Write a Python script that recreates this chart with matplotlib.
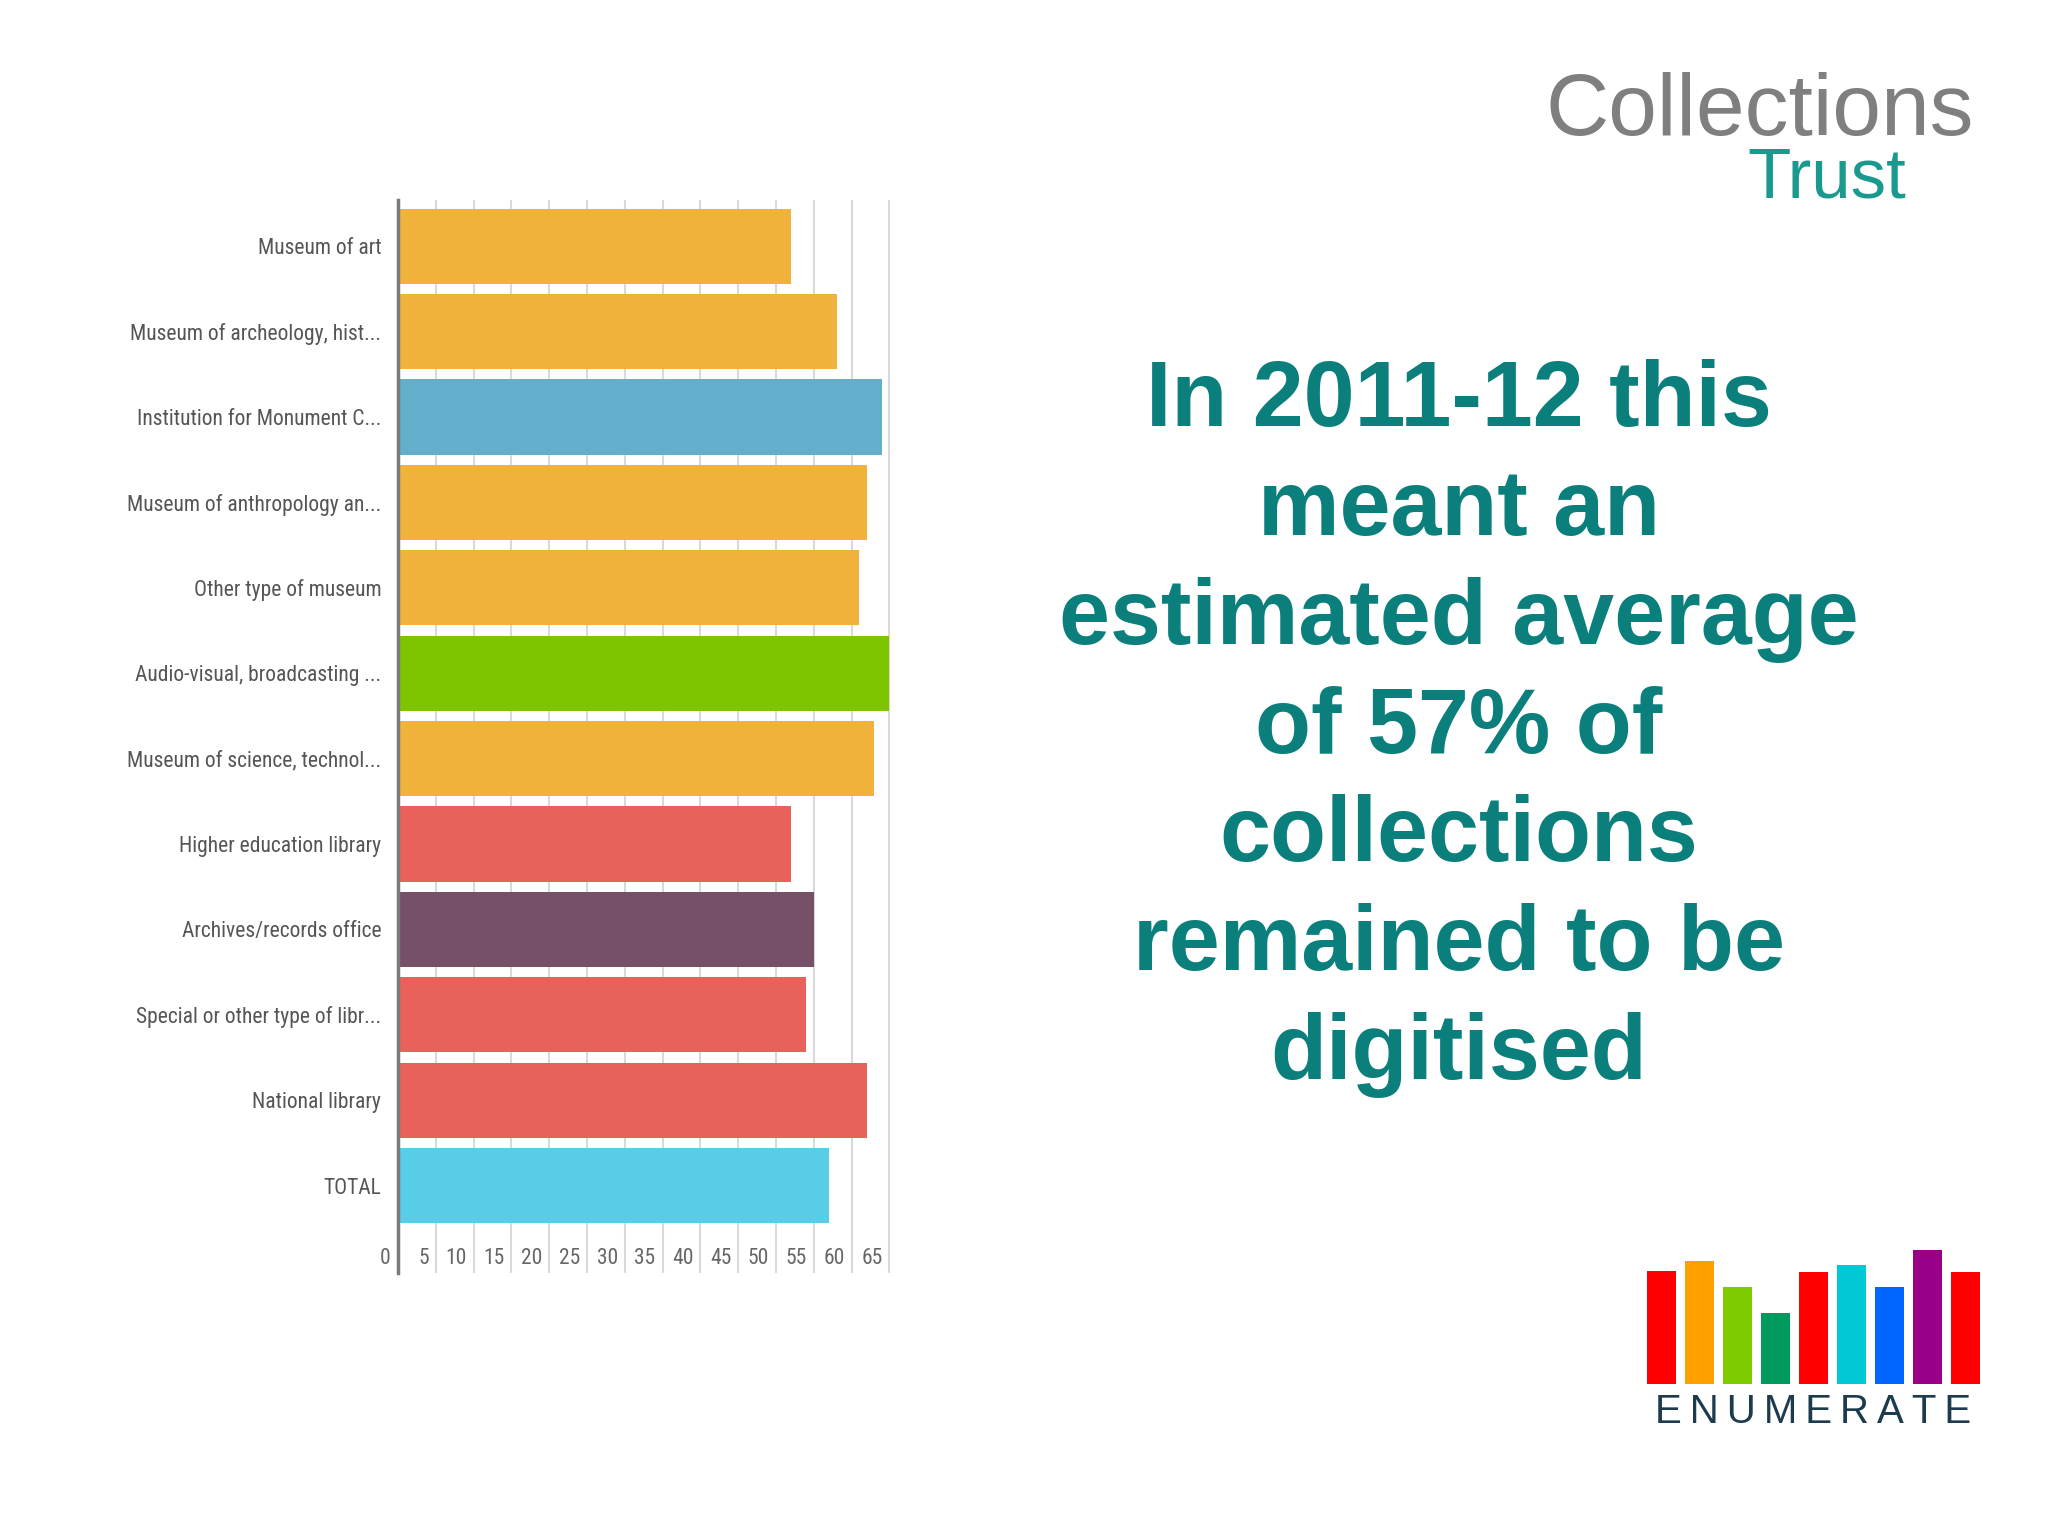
import matplotlib
matplotlib.use('Agg')
import matplotlib.pyplot as plt
import matplotlib.transforms as mtransforms
from matplotlib import font_manager
import numpy as np

# datos del grafico
categorias = ['Museum of art', 'Museum of archeology, hist...', 'Institution for Monument C...',
              'Museum of anthropology an...', 'Other type of museum', 'Audio-visual, broadcasting ...',
              'Museum of science, technol...', 'Higher education library', 'Archives/records office',
              'Special or other type of libr...', 'National library', 'TOTAL']
valores = [52, 58, 64, 62, 61, 65, 63, 52, 55, 54, 62, 57]
colores = ['#F0B23B', '#F0B23B', '#62AECB', '#F0B23B', '#F0B23B', '#7EC500',
           '#F0B23B', '#E8615A', '#765067', '#E8615A', '#E8615A', '#57CDE8']
ticks_x = [0, 5, 10, 15, 20, 25, 30, 35, 40, 45, 50, 55, 60, 65]

texto = 'In 2011-12 this\nmeant an\nestimated average\nof 57% of\ncollections\nremained to be\ndigitised'

# logo ENUMERATE
logo_alturas = [113, 123, 97, 71, 112, 119, 97, 134, 112]
logo_colores = ['#FF0000', '#FFA000', '#7DCB00', '#009A5E', '#FF0000',
                '#00C8D4', '#0066FF', '#990088', '#FF0000']

# buscar una fuente estrecha para las etiquetas
fuentes = font_manager.fontManager.ttflist
nombres = {f.name for f in fuentes}
fuente_eje = dict(family=['DejaVu Sans'], fontsize=14)
for n in ['Liberation Sans Narrow', 'Roboto Condensed', 'Open Sans Condensed', 'Noto Sans Condensed']:
    if n in nombres:
        fuente_eje = dict(family=[n, 'DejaVu Sans'], fontsize=15.5)
        break
else:
    if any(f.name == 'DejaVu Sans' and f.stretch == 'condensed' for f in fuentes):
        fuente_eje = dict(family=['DejaVu Sans'], fontstretch='condensed', fontsize=15)
    elif 'Roboto' in nombres:
        fuente_eje = dict(family=['Roboto', 'DejaVu Sans'], fontsize=15)

fig = plt.figure(figsize=(20.48, 15.36), dpi=100)
fig.patch.set_facecolor('white')

# grafico de barras principal
ax = fig.add_axes([0.1943, 0.1709, 0.2437, 0.6990])
y = np.arange(len(categorias))
ax.barh(y, valores, height=0.88, color=colores, zorder=3)
ax.set_xlim(0, 66)
ax.set_ylim(12.03, -0.543)
ax.set_xticks(ticks_x)
ax.xaxis.grid(True, color='#d9d9d9', linewidth=1.5, zorder=0)
ax.set_axisbelow(True)
ax.tick_params(axis='x', length=0, labelbottom=False)
for s in ['top', 'right', 'bottom']:
    ax.spines[s].set_visible(False)
ax.spines['left'].set_color('#7a7a7a')
ax.spines['left'].set_linewidth(2.5)
ax.spines['left'].set_zorder(4)

ax.set_yticks(y)
ax.set_yticklabels(categorias, color='#555555', **fuente_eje)
ax.tick_params(axis='y', length=0, pad=12)

# etiquetas del eje x, alineadas a la derecha de cada linea
trans = mtransforms.offset_copy(ax.get_xaxis_transform(), fig=fig, x=-7, y=0, units='dots')
for t in ticks_x:
    ax.text(t, 0.0144, str(t), transform=trans, ha='right', va='center',
            color='#666666', **fuente_eje)

# texto principal
fig.text(0.7124, 0.5256, texto, ha='center', va='center', multialignment='center',
         family=['Liberation Sans', 'DejaVu Sans'], fontweight='bold', fontsize=66,
         color='#0A7F7C', linespacing=1.34)

# logo Collections Trust
fig.text(0.7544, 1 - 134.5 / 1536, 'Collections', ha='left', va='baseline',
         family=['Liberation Sans', 'DejaVu Sans'], fontsize=63, color='#7f7f7f')
fig.text(0.8530, 1 - 198 / 1536, 'Trust', ha='left', va='baseline',
         family=['Liberation Sans', 'DejaVu Sans'], fontsize=51, color='#1A9A8E')

# logo ENUMERATE
ax2 = fig.add_axes([1642.5 / 2048, 1 - 1384 / 1536, 342 / 2048, 140 / 1536])
ax2.bar(np.arange(len(logo_alturas)), logo_alturas, width=0.76, color=logo_colores)
ax2.set_xlim(-0.5, len(logo_alturas) - 0.5)
ax2.set_ylim(0, 140)
ax2.axis('off')
fig.text(0.8853, 1 - 1412 / 1536, '\u2009'.join('ENUMERATE'), ha='center', va='center',
         family=['Liberation Sans', 'DejaVu Sans'], fontsize=29, color='#1D3B4F')

plt.savefig('out.png', dpi=100, facecolor='white')
